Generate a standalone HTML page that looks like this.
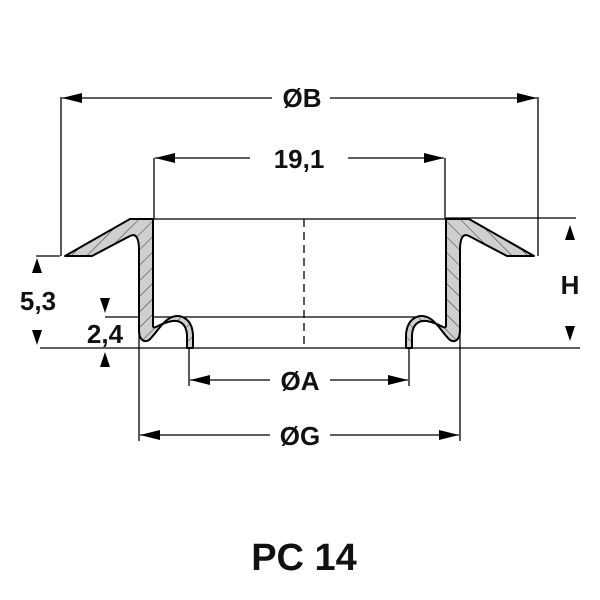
<!DOCTYPE html>
<html><head><style>html,body{margin:0;padding:0;background:#fff;}svg{display:block}</style></head>
<body>
<svg width="600" height="600" viewBox="0 0 600 600" xmlns="http://www.w3.org/2000/svg" font-family="Liberation Sans, Arial, sans-serif" font-weight="bold">
<defs>
<pattern id="h" patternUnits="userSpaceOnUse" width="11" height="11" patternTransform="rotate(45)">
<rect width="11" height="11" fill="#cfcfcf"/><line x1="0" y1="0" x2="0" y2="11" stroke="#222" stroke-width="0.9"/>
</pattern>
<g id="prof">
<path d="M65,256 L130,219 L153,219 L153,326 C153,330 160,324 168,322 C178,319 186,322 187,335 L187,348 L193,348 L193,335 C192,318 180,313 170,318 C162,322 155,335 149,340 C144,343 139,340 139,330 L139,250 C139,238 136,233 130,236 L92,256 Z" fill="url(#h)" stroke="#000" stroke-width="2" stroke-linejoin="round"/>
</g>
</defs>
<g stroke="#000" stroke-width="1.3" fill="none">
<line x1="153" y1="219" x2="446" y2="219"/>
<line x1="446" y1="218" x2="576" y2="218"/>
<line x1="105" y1="317" x2="420" y2="317"/>
<line x1="40" y1="348" x2="580" y2="348"/>
<line x1="36" y1="256" x2="60" y2="256"/>
<line x1="304" y1="219" x2="304" y2="348" stroke-dasharray="8,5"/>
<line x1="61" y1="97" x2="61" y2="256"/>
<line x1="538" y1="97" x2="538" y2="256"/>
<line x1="154" y1="158" x2="154" y2="219"/>
<line x1="445" y1="158" x2="445" y2="219"/>
<line x1="189" y1="348" x2="189" y2="386"/>
<line x1="409" y1="348" x2="409" y2="386"/>
<line x1="139" y1="330" x2="139" y2="441"/>
<line x1="460" y1="330" x2="460" y2="441"/>
<line x1="62" y1="98" x2="272" y2="98"/><line x1="330" y1="98" x2="537" y2="98"/>
<line x1="155" y1="158" x2="250" y2="158"/><line x1="348" y1="158" x2="444" y2="158"/>
<line x1="190" y1="380" x2="270" y2="380"/><line x1="330" y1="380" x2="408" y2="380"/>
<line x1="140" y1="435" x2="270" y2="435"/><line x1="330" y1="435" x2="459" y2="435"/>
</g>
<use href="#prof"/>
<use href="#prof" transform="translate(599,0) scale(-1,1)"/>
<g fill="#000">
<polygon points="62,98 82,93 82,103"/><polygon points="537,98 517,93 517,103"/>
<polygon points="155,158 175,153 175,163"/><polygon points="444,158 424,153 424,163"/>
<polygon points="190,380 210,375 210,385"/><polygon points="408,380 388,375 388,385"/>
<polygon points="140,435 160,430 160,440"/><polygon points="459,435 439,430 439,440"/>
<polygon points="570,225 565,240 575,240"/><polygon points="570,341 565,326 575,326"/>
<polygon points="37,258 32,273 42,273"/><polygon points="37,345 32,330 42,330"/>
<polygon points="105,313 100,298 110,298"/><polygon points="105,352 100,367 110,367"/>
</g>
<g fill="#111" font-size="26">
<text x="302" y="107" text-anchor="middle">ØB</text>
<text x="299" y="168" text-anchor="middle">19,1</text>
<text x="300" y="390" text-anchor="middle">ØA</text>
<text x="300" y="445" text-anchor="middle">ØG</text>
<text x="38" y="310" text-anchor="middle">5,3</text>
<text x="105" y="343" text-anchor="middle">2,4</text>
<text x="570" y="294" text-anchor="middle">H</text>
<text x="304" y="570" text-anchor="middle" font-size="38">PC 14</text>
</g>
</svg>
</body></html>
